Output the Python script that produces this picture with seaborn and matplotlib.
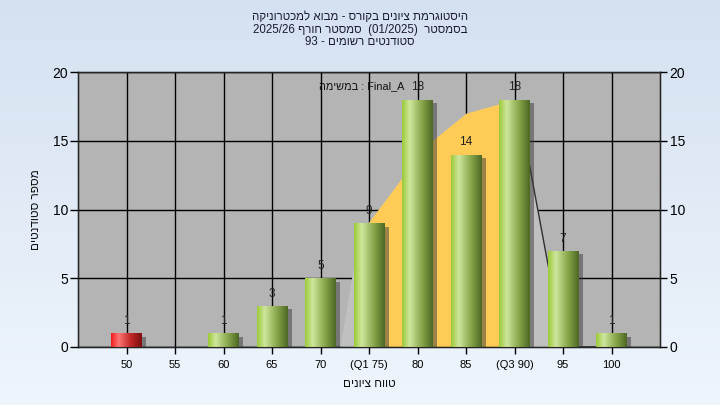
import numpy as np
import matplotlib
matplotlib.use('Agg')
import matplotlib.pyplot as plt
import matplotlib.patheffects as pe
from matplotlib.colors import LinearSegmentedColormap
from matplotlib.patches import Rectangle
import seaborn as sns

# grade histogram data
grades = ['50', '55', '60', '65', '70', '(Q1 75)', '80', '85', '(Q3 90)', '95', '100']
grade_values = [50, 55, 60, 65, 70, 75, 80, 85, 90, 95, 100]
counts = [1, 0, 1, 3, 5, 9, 18, 14, 18, 7, 1]
pass_mark = 55

# distribution curve (grade, students)
curve_grade = [72.0, 73.5, 75.0, 78.5, 81.5, 85.0, 88.5, 90.0, 91.5, 93.4, 95.0, 100.0]
curve_count = [0.0, 6.3, 9.1, 12.4, 15.0, 17.0, 17.7, 17.8, 13.4, 6.2, 0.0, 0.0]
q1, q3 = 75, 90


def rtl(text):
    # matplotlib has no bidi support, so hebrew is given in visual order
    return text[::-1]


title_lines = [
    rtl('היסטוגרמת ציונים בקורס - מבוא למכטרוניקה'),
    '2025/26 ' + rtl('סמסטר חורף') + '  (01/2025)  ' + rtl('בסמסטר'),
    '93 - ' + rtl('סטודנטים רשומים'),
]
task_label = rtl('במשימה') + ' : Final_A'
x_label = rtl('טווח ציונים')
y_label = rtl('מספר סטודנטים')

sns.set_style('ticks')
plt.rcParams['font.family'] = ['Liberation Sans', 'DejaVu Sans']

fig = plt.figure(figsize=(7.2, 4.05), dpi=100)

# light blue background gradient
bg = fig.add_axes([0, 0, 1, 1], zorder=-10)
bg_cmap = LinearSegmentedColormap.from_list('bg', ['#eef5fc', '#d5e1f1'])
bg.imshow(np.linspace(0, 1, 256).reshape(-1, 1)[::-1], cmap=bg_cmap, aspect='auto',
          extent=[0, 1, 0, 1], origin='upper')
bg.axis('off')

ax = fig.add_axes([78 / 720, 1 - 347 / 405, 582 / 720, 275 / 405])
ax.set_facecolor('#b4b4b4')

bar_colors = ['#e02020' if g < pass_mark else '#8fbf35' for g in grade_values]
sns.barplot(x=grades, y=counts, order=grades, hue=grades, hue_order=grades,
            palette=bar_colors, legend=False, width=0.62, saturation=1,
            edgecolor='none', ax=ax, zorder=3)
bars = list(ax.patches)

pos = {g: i for i, g in enumerate(grade_values)}
curve_pos = [(g - grade_values[0]) / 5 for g in curve_grade]

# curve area: light grey outside the quartiles, orange between them
ax.fill_between(curve_pos, curve_count, color='#c0c0c0', lw=0, zorder=1.5)
iqr = ax.fill_between(curve_pos, curve_count, color='#fecb57', lw=0, zorder=1.6)
iqr.set_clip_path(Rectangle((pos[q1], 0), pos[q3] - pos[q1], 25, transform=ax.transData))
ax.plot(curve_pos[7:], curve_count[7:], color='#303030', lw=1, zorder=2.5)

green = LinearSegmentedColormap.from_list('g', ['#9acb38', '#cfe69c', '#8aa84c', '#4c6823'])
red = LinearSegmentedColormap.from_list('r', ['#f01c1c', '#ff7474', '#c02828', '#7e0e0e'])
grad = np.concatenate([np.linspace(0, 0.33, 40), np.linspace(0.33, 0.66, 60),
                       np.linspace(0.66, 1, 60)]).reshape(1, -1)

for bar in bars:
    h = bar.get_height()
    if not h:
        continue
    x0, w = bar.get_x(), bar.get_width()
    idx = int(round(x0 + w / 2))
    cmap = red if grade_values[idx] < pass_mark else green
    bar.set_path_effects([pe.withSimplePatchShadow(offset=(3.5, -2.5),
                                                   shadow_rgbFace='#3a3a3a', alpha=0.5)])
    im = ax.imshow(grad, cmap=cmap, extent=[x0, x0 + w, 0, h], aspect='auto',
                   interpolation='bilinear', zorder=3.1)
    im.set_clip_path(bar)

for i, c in enumerate(counts):
    if c > 0:
        ax.text(i, c + 0.45, str(c), ha='center', va='bottom', fontsize=8.5,
                color='#222222', zorder=5)

ax.set_xlim(-1, 11)
ax.set_ylim(0, 20)
ax.set_yticks(range(0, 21, 5))
ax.set_axisbelow(True)
ax.grid(True, color='black', lw=1)
for s in ax.spines.values():
    s.set_visible(True)
    s.set_color('black')
    s.set_linewidth(1)
ax.tick_params(axis='x', labelsize=8, length=5, width=1, colors='black', pad=4)
ax.tick_params(axis='y', labelsize=10, length=6, width=1, colors='black', pad=1)

ax2 = ax.twinx()
ax2.set_ylim(0, 20)
ax2.set_yticks(range(0, 21, 5))
ax2.tick_params(axis='y', labelsize=10, length=5, width=1, colors='black', pad=2)
ax2.grid(False)

ax.set_xlabel(x_label, fontsize=8.5, color='#111111', labelpad=6)
ax.set_ylabel(y_label, fontsize=8.5, color='#111111', rotation=90)
ax.yaxis.set_label_coords(-0.062, 0.5)

ax.text(0.414, 0.949, task_label, transform=ax.transAxes, ha='left', va='center',
        fontsize=7.8, color='#111111', zorder=6)

for k, line in enumerate(title_lines):
    fig.text(0.5, 1 - (17 + 12.5 * k) / 405, line, ha='center', va='center',
             fontsize=8.3, color='#1a1a33')

fig.savefig('out.png', dpi=100)
